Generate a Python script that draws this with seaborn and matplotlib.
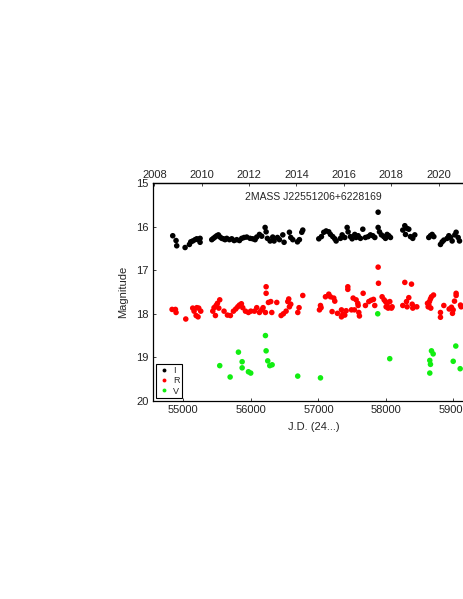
import matplotlib
matplotlib.use("Agg")
import matplotlib.pyplot as plt
import numpy as np
import pandas as pd
import seaborn as sns

# photometry (J.D. - 2400000, magnitude)
I_JD = [54842, 54891, 54901, 55025, 55089, 55109, 55138, 55173, 55198, 55222, 55247, 55247,
        55420, 55444, 55469, 55494, 55518, 55543, 55568, 55593, 55617, 55642, 55681, 55716,
        55751, 55790, 55830, 55864, 55899, 55938, 55988, 56027, 56062, 56086, 56126, 56160,
        56210, 56225, 56244, 56284, 56323, 56343, 56393, 56422, 56472, 56491, 56570, 56590,
        56620, 56689, 56718, 56753, 56768,
        57005, 57044, 57079, 57114, 57153, 57178, 57212, 57242, 57262, 57326, 57351, 57390,
        57425, 57439, 57474, 57499, 57538, 57558, 57588, 57622, 57657, 57696, 57736, 57770,
        57805, 57835, 57884, 57884, 57904, 57933, 57968, 57993, 58017, 58042, 58067, 58249,
        58279, 58309, 58338, 58289, 58363, 58397, 58427, 58634, 58659, 58684, 58709, 58807,
        58832, 58857, 58906, 58931, 58956, 58980, 59020, 59039, 59069, 59089]
I_MAG = [16.21, 16.32, 16.44, 16.48, 16.41, 16.35, 16.33, 16.30, 16.28, 16.30, 16.27, 16.36,
         16.30, 16.27, 16.24, 16.21, 16.19, 16.24, 16.27, 16.28, 16.30, 16.27, 16.30, 16.28,
         16.32, 16.30, 16.32, 16.27, 16.25, 16.24, 16.27, 16.28, 16.30, 16.24, 16.18, 16.22,
         16.02, 16.12, 16.27, 16.33, 16.24, 16.33, 16.25, 16.30, 16.19, 16.36, 16.13, 16.25,
         16.30, 16.35, 16.30, 16.13, 16.08,
         16.28, 16.23, 16.13, 16.10, 16.12, 16.18, 16.23, 16.28, 16.33, 16.27, 16.19, 16.25,
         16.02, 16.12, 16.23, 16.28, 16.18, 16.25, 16.21, 16.27, 16.06, 16.25, 16.23, 16.19,
         16.21, 16.25, 15.67, 16.02, 16.12, 16.19, 16.23, 16.27, 16.18, 16.21, 16.25, 16.08,
         15.98, 16.04, 16.06, 16.18, 16.23, 16.27, 16.19, 16.25, 16.21, 16.18, 16.23, 16.41,
         16.35, 16.31, 16.27, 16.21, 16.25, 16.33, 16.19, 16.13, 16.25, 16.33]

R_JD = [54832, 54882, 54891, 55035, 55138, 55158, 55198, 55227, 55257, 55188, 55217, 55435,
        55454, 55484, 55504, 55538, 55524, 55474, 55602, 55652, 55696, 55741, 55775, 55805,
        55830, 55859, 55879, 55919, 55963, 55998, 56052, 56086, 56126, 56160, 56180, 56215,
        56225, 56225, 56259, 56294, 56309, 56383, 56447, 56481, 56521, 56546, 56560, 56570,
        56590, 56713, 56694, 56768,
        57030, 57015, 57039, 57104, 57153, 57178, 57227, 57242, 57202, 57281, 57341, 57361,
        57341, 57390, 57410, 57435, 57435, 57489, 57533, 57514, 57558, 57583, 57588, 57598,
        57607, 57662, 57696, 57746, 57780, 57815, 57834, 57884, 57889, 57943, 57973, 57993,
        58002, 58032, 58017, 58057, 58091, 58081, 58249, 58279, 58378, 58304, 58338, 58313,
        58388, 58412, 58457, 58397, 58615, 58635, 58644, 58659, 58674, 58704, 58625, 58664,
        58807, 58807, 58857, 58936, 58970, 58995, 58985, 59015, 59039, 59039, 59104, 59114]
R_MAG = [17.90, 17.90, 17.97, 18.12, 17.87, 17.94, 17.86, 17.87, 17.94, 18.04, 18.07, 17.94,
         17.86, 17.81, 17.76, 17.68, 17.87, 18.04, 17.94, 18.03, 18.04, 17.94, 17.89, 17.84,
         17.80, 17.77, 17.86, 17.94, 17.97, 17.94, 17.94, 17.86, 17.97, 17.91, 17.86, 17.97,
         17.38, 17.53, 17.74, 17.72, 17.97, 17.74, 18.04, 18.00, 17.94, 17.72, 17.66, 17.84,
         17.78, 17.86, 17.97, 17.58,
         17.81, 17.91, 17.86, 17.61, 17.55, 17.61, 17.64, 17.71, 17.95, 17.99, 17.91, 18.01,
         18.07, 18.03, 17.93, 17.38, 17.44, 17.91, 17.91, 17.64, 17.68, 17.76, 17.81, 17.97,
         18.05, 17.53, 17.81, 17.72, 17.69, 17.67, 17.81, 16.93, 17.30, 17.61, 17.68, 17.72,
         17.84, 17.87, 17.81, 17.72, 17.84, 17.87, 17.81, 17.28, 17.32, 17.72, 17.63, 17.84,
         17.78, 17.84, 17.84, 17.87, 17.76, 17.80, 17.72, 17.66, 17.61, 17.57, 17.84, 17.87,
         17.97, 18.08, 17.81, 17.89, 17.85, 17.91, 17.99, 17.71, 17.53, 17.58, 17.80, 17.84]

V_JD = [56215, 55815, 56225, 55538, 55870, 55870, 56249, 56279, 56314, 55692, 55963, 55997,
        56693, 57030, 58056, 58674, 58699, 58649, 58659, 58649, 59034, 58996, 59099, 57878]
V_MAG = [18.50, 18.88, 18.85, 19.19, 19.10, 19.24, 19.08, 19.19, 19.17, 19.45, 19.33, 19.36,
         19.43, 19.47, 19.03, 18.85, 18.92, 19.07, 19.16, 19.36, 18.74, 19.09, 19.26, 18.00]

BANDS = ["I", "R", "V"]
COLORS = {"I": "black", "R": "#ff0000", "V": "#11ee11"}
YEAR_TICKS = [2008, 2010, 2012, 2014, 2016, 2018, 2020]

# top axis as drawn in the figure: 2008 -> JD 54570, ~350.7 d per year tick
JD_2008 = 54570.0
DAYS_PER_YEAR = 350.7


def jd_to_year(jd):
    return 2008 + (np.asarray(jd) - JD_2008) / DAYS_PER_YEAR


def year_to_jd(yr):
    return JD_2008 + (np.asarray(yr) - 2008) * DAYS_PER_YEAR


df = pd.concat([
    pd.DataFrame({"jd": I_JD, "mag": I_MAG, "band": "I"}),
    pd.DataFrame({"jd": R_JD, "mag": R_MAG, "band": "R"}),
    pd.DataFrame({"jd": V_JD, "mag": V_MAG, "band": "V"}),
], ignore_index=True)

sns.set_theme(style="ticks")
plt.rcParams["font.family"] = ["Liberation Sans", "DejaVu Sans"]

fig = plt.figure(figsize=(4.63, 5.99), dpi=100)
ax = fig.add_axes([0.3305, 0.3306, 0.6927, 0.3639])

sns.scatterplot(data=df, x="jd", y="mag", hue="band", hue_order=BANDS,
                palette=COLORS, s=16, linewidth=0, ax=ax)

ax.set_xlim(54550, 59300)
ax.set_ylim(20, 15)
ax.set_yticks([15, 16, 17, 18, 19, 20])
ax.set_xticks([55000, 56000, 57000, 58000, 59000])
ax.tick_params(direction="in", length=2.5, width=0.6, labelsize=8, pad=3, colors="#222222")
for sp in ax.spines.values():
    sp.set_linewidth(0.9)
    sp.set_color("black")

ax.set_xlabel("J.D. (24...)", fontsize=8, labelpad=5)
ax.set_ylabel("Magnitude", fontsize=8, labelpad=6)

top = ax.secondary_xaxis("top", functions=(jd_to_year, year_to_jd))
top.set_xticks(YEAR_TICKS)
top.tick_params(direction="in", length=2.5, width=0.6, labelsize=8, pad=2)
top.spines["top"].set_linewidth(0.9)

ax.text(0.5, 0.936, "2MASS J22551206+6228169", transform=ax.transAxes,
        ha="center", va="center", fontsize=7.5)

handles, labels = ax.get_legend_handles_labels()
leg = ax.legend(handles, labels, loc="lower left", fontsize=6.5, frameon=True,
                fancybox=False, edgecolor="black", framealpha=1,
                borderpad=0.3, handletextpad=0.3, labelspacing=0.12,
                handlelength=1.3, markerscale=0.7, borderaxespad=0.3)
leg.get_frame().set_linewidth(0.8)

fig.savefig("out.png", dpi=100)
